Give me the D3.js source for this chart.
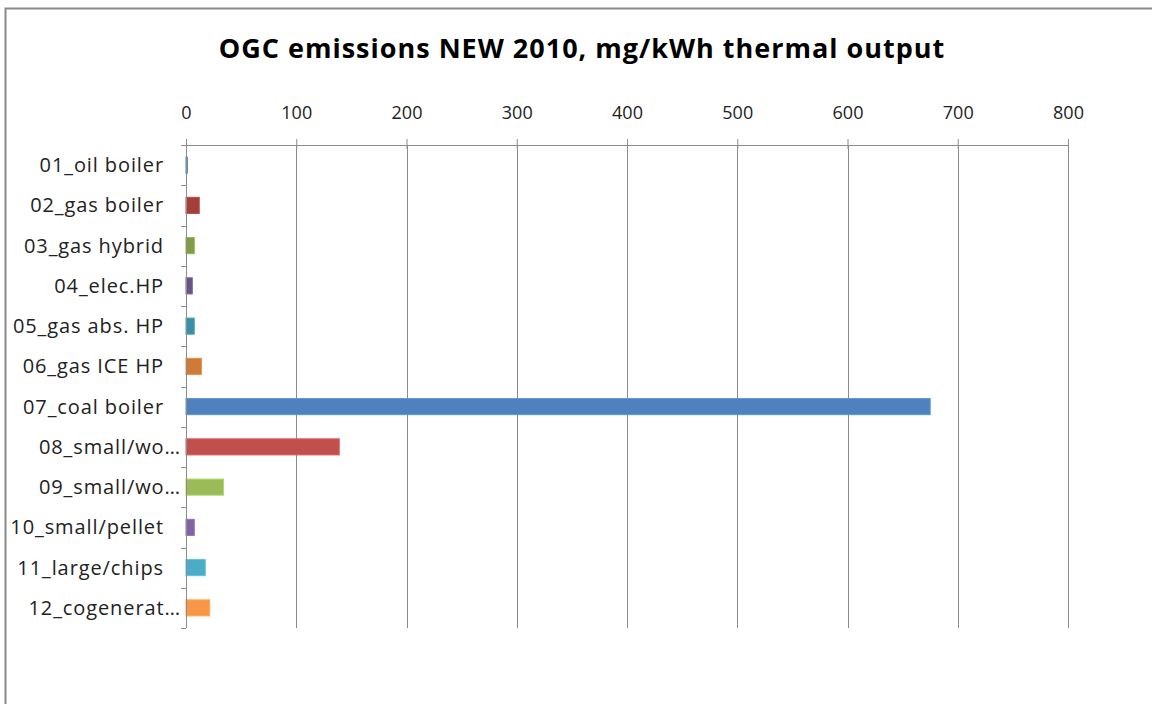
<!DOCTYPE html>
<html><head><meta charset="utf-8">
<script src="https://cdn.jsdelivr.net/npm/d3@7"></script>
<style>html,body{margin:0;padding:0;background:#fff;overflow:hidden}</style>
</head><body>
<svg id="c" width="1152" height="704"></svg>
<script>
const categories = ["01_oil boiler","02_gas boiler","03_gas hybrid","04_elec.HP","05_gas abs. HP","06_gas ICE HP","07_coal boiler","08_small/wo…","09_small/wo…","10_small/pellet","11_large/chips","12_cogenerat…"];
const values = [1.2, 12, 7.5, 5.7, 7.5, 14, 675, 139, 34, 7.5, 17.5, 21.5];
const barColors = ["#3F6DA5","#A33E3B","#7E9D46","#6A5287","#3A8FA8","#D07A38","#4F81BD","#C0504D","#9BBB59","#8064A2","#4BACC6","#F79646"];
const xTicks = [0,100,200,300,400,500,600,700,800];
const title = "OGC emissions NEW 2010, mg/kWh thermal output";

const svg = d3.select("#c");
const font = "'Open Sans', sans-serif";
svg.append("rect").attr("x",5.5).attr("y",8.5).attr("width",1170).attr("height",720)
  .attr("fill","#fff").attr("stroke","#8a8a8a").attr("stroke-width",2);

const L=186, R=1068, T=145, B=628;
const x = d3.scaleLinear().domain([0,800]).range([L,R]);
const y = d3.scaleBand().domain(categories).range([T,B]).paddingInner(0.6).paddingOuter(0.3);
const yb = d3.scaleBand().domain(categories).range([T,B]);

svg.append("text").attr("x",582).attr("y",58).attr("text-anchor","middle")
  .attr("font-family",font).attr("font-weight","bold").attr("font-size",27).attr("letter-spacing",1)
  .attr("fill","#000").text(title);

// gridlines
svg.append("g").selectAll("line").data(xTicks.slice(1)).join("line")
  .attr("x1",d=>Math.round(x(d))+0.5).attr("x2",d=>Math.round(x(d))+0.5).attr("y1",T).attr("y2",B)
  .attr("stroke","#8c8c8c").attr("stroke-width",1);

// top axis
const ax = svg.append("g").attr("transform",`translate(0,${T})`)
  .call(d3.axisTop(x).tickValues(xTicks).tickSize(6).tickPadding(20));
ax.select(".domain").attr("stroke","#8c8c8c");
ax.selectAll(".tick line").attr("stroke","#8c8c8c").attr("y1",4);
ax.selectAll(".tick text").attr("font-family",font).attr("font-size",18).attr("fill","#222");

// bars
svg.append("g").selectAll("rect").data(categories).join("rect")
  .attr("x",x(0)).attr("y",d=>y(d)).attr("height",y.bandwidth())
  .attr("width",(d,i)=>x(values[i])-x(0)).attr("fill",(d,i)=>barColors[i])
  .attr("stroke",(d,i)=>d3.color(barColors[i]).brighter(0.4)).attr("stroke-width",1);

// category axis
svg.append("line").attr("x1",L+0.5).attr("x2",L+0.5).attr("y1",T).attr("y2",B)
  .attr("stroke","#8c8c8c");
svg.append("g").selectAll("line").data(d3.range(categories.length+1)).join("line")
  .attr("x1",L-5).attr("x2",L).attr("y1",i=>Math.round(T+i*yb.step())+0.5).attr("y2",i=>Math.round(T+i*yb.step())+0.5)
  .attr("stroke","#8c8c8c");
svg.append("g").selectAll("text").data(categories).join("text")
  .attr("x",d=>d.endsWith("…")?L-5:L-22).attr("y",d=>yb(d)+yb.bandwidth()/2).attr("dy","0.35em")
  .attr("text-anchor","end").attr("font-family",font).attr("font-size",20).attr("letter-spacing",0.9)
  .attr("fill","#222").text(d=>d);
</script>
</body></html>
